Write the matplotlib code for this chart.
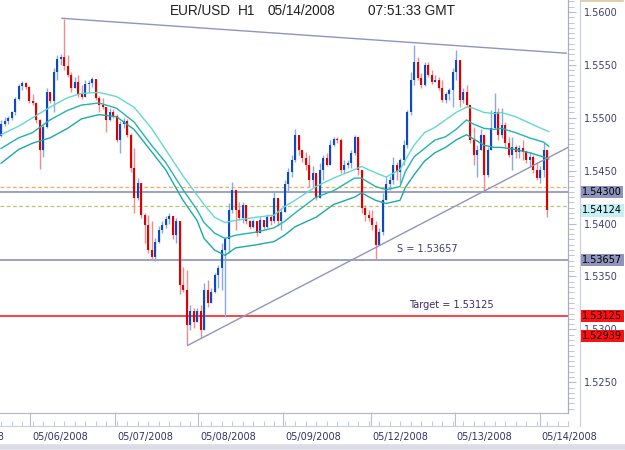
import matplotlib
matplotlib.use('Agg')
import matplotlib.pyplot as plt
from matplotlib.ticker import MultipleLocator, FixedLocator, NullFormatter
from matplotlib.lines import Line2D

# hourly EUR/USD bars, open of each bar = close of the one before
first_open = 1.5483
close = [1.5494, 1.5497, 1.5500, 1.5505, 1.5518, 1.5530, 1.5533, 1.5529, 1.5516, 1.5514,
         1.5498, 1.5470, 1.5491, 1.5524, 1.5516, 1.5543, 1.5556, 1.5557, 1.5549, 1.5540,
         1.5528, 1.5534, 1.5522, 1.5520, 1.5532, 1.5533, 1.5537, 1.5519, 1.5512, 1.5510,
         1.5498, 1.5505, 1.5502, 1.5479, 1.5494, 1.5497, 1.5484, 1.5453, 1.5424, 1.5438,
         1.5408, 1.5399, 1.5375, 1.5368, 1.5383, 1.5394, 1.5399, 1.5404, 1.5407, 1.5389,
         1.5402, 1.5342, 1.5337, 1.5304, 1.5317, 1.5307, 1.5317, 1.5299, 1.5337, 1.5325,
         1.5335, 1.5351, 1.5358, 1.5375, 1.5385, 1.5413, 1.5432, 1.5413, 1.5405, 1.5418,
         1.5402, 1.5397, 1.5402, 1.5391, 1.5403, 1.5397, 1.5406, 1.5402, 1.5424, 1.5402,
         1.5411, 1.5437, 1.5449, 1.5460, 1.5484, 1.5470, 1.5462, 1.5455, 1.5441, 1.5448,
         1.5424, 1.5451, 1.5462, 1.5455, 1.5474, 1.5480, 1.5479, 1.5451, 1.5455, 1.5457,
         1.5467, 1.5482, 1.5451, 1.5415, 1.5408, 1.5405, 1.5399, 1.5380, 1.5392, 1.5422,
         1.5437, 1.5441, 1.5455, 1.5449, 1.5460, 1.5474, 1.5505, 1.5536, 1.5553, 1.5538,
         1.5531, 1.5550, 1.5540, 1.5534, 1.5536, 1.5528, 1.5517, 1.5522, 1.5526, 1.5543,
         1.5555, 1.5517, 1.5524, 1.5512, 1.5479, 1.5465, 1.5470, 1.5484, 1.5446, 1.5470,
         1.5490, 1.5505, 1.5484, 1.5493, 1.5476, 1.5465, 1.5472, 1.5468, 1.5471, 1.5468,
         1.5460, 1.5463, 1.5451, 1.5443, 1.5451, 1.5470, 1.54124]
high = [1.5498, 1.5501, 1.5502, 1.5506, 1.5520, 1.5532, 1.5535, 1.5534, 1.5530, 1.5522,
        1.5515, 1.5499, 1.5493, 1.5528, 1.5522, 1.5547, 1.5559, 1.5560, 1.5593, 1.5559,
        1.5543, 1.5539, 1.5540, 1.5531, 1.5536, 1.5536, 1.5539, 1.5536, 1.5521, 1.5519,
        1.5505, 1.5509, 1.5508, 1.5504, 1.5497, 1.5500, 1.5499, 1.5486, 1.5471, 1.5443,
        1.5438, 1.5410, 1.5408, 1.5402, 1.5386, 1.5398, 1.5402, 1.5407, 1.5410, 1.5402,
        1.5405, 1.5402, 1.5359, 1.5356, 1.5323, 1.5320, 1.5320, 1.5323, 1.5344, 1.5347,
        1.5339, 1.5353, 1.5361, 1.5382, 1.5387, 1.5419, 1.5439, 1.5432, 1.5420, 1.5420,
        1.5415, 1.5403, 1.5404, 1.5402, 1.5406, 1.5403, 1.5409, 1.5408, 1.5430, 1.5422,
        1.5415, 1.5441, 1.5453, 1.5465, 1.5489, 1.5484, 1.5470, 1.5468, 1.5465, 1.5454,
        1.5448, 1.5457, 1.5465, 1.5467, 1.5479, 1.5482, 1.5482, 1.5481, 1.5460, 1.5460,
        1.5470, 1.5484, 1.5474, 1.5451, 1.5418, 1.5413, 1.5413, 1.5402, 1.5396, 1.5429,
        1.5444, 1.5445, 1.5463, 1.5458, 1.5462, 1.5479, 1.5507, 1.5543, 1.5569, 1.5557,
        1.5542, 1.5553, 1.5553, 1.5545, 1.5540, 1.5539, 1.5536, 1.5524, 1.5528, 1.5547,
        1.5564, 1.5547, 1.5528, 1.5531, 1.5512, 1.5491, 1.5474, 1.5489, 1.5484, 1.5472,
        1.5507, 1.5523, 1.5509, 1.5509, 1.5496, 1.5482, 1.5482, 1.5474, 1.5474, 1.5479,
        1.5470, 1.5468, 1.5465, 1.5458, 1.5454, 1.5476, 1.5470]
low = [1.5482, 1.5492, 1.5494, 1.5498, 1.5503, 1.5517, 1.5526, 1.5527, 1.5514, 1.5512,
       1.5495, 1.5452, 1.5463, 1.5490, 1.5514, 1.5505, 1.5536, 1.5550, 1.5545, 1.5539,
       1.5524, 1.5528, 1.5520, 1.5518, 1.5521, 1.5524, 1.5529, 1.5517, 1.5505, 1.5508,
       1.5487, 1.5497, 1.5500, 1.5477, 1.5467, 1.5490, 1.5482, 1.5449, 1.5410, 1.5422,
       1.5405, 1.5382, 1.5372, 1.5366, 1.5365, 1.5382, 1.5391, 1.5396, 1.5400, 1.5385,
       1.5382, 1.5333, 1.5335, 1.5285, 1.5299, 1.5301, 1.5307, 1.5292, 1.5312, 1.5321,
       1.5328, 1.5334, 1.5339, 1.5337, 1.5312, 1.5372, 1.5410, 1.5394, 1.5403, 1.5401,
       1.5400, 1.5395, 1.5396, 1.5388, 1.5391, 1.5395, 1.5396, 1.5399, 1.5401, 1.5398,
       1.5394, 1.5411, 1.5430, 1.5444, 1.5458, 1.5465, 1.5458, 1.5451, 1.5435, 1.5435,
       1.5422, 1.5435, 1.5441, 1.5454, 1.5455, 1.5473, 1.5476, 1.5448, 1.5448, 1.5453,
       1.5453, 1.5465, 1.5446, 1.5410, 1.5402, 1.5402, 1.5394, 1.5366, 1.5382, 1.5389,
       1.5422, 1.5432, 1.5437, 1.5441, 1.5438, 1.5455, 1.5471, 1.5503, 1.5531, 1.5536,
       1.5528, 1.5530, 1.5539, 1.5532, 1.5534, 1.5526, 1.5515, 1.5514, 1.5517, 1.5510,
       1.5536, 1.5510, 1.5514, 1.5510, 1.5476, 1.5455, 1.5444, 1.5471, 1.5432, 1.5444,
       1.5472, 1.5489, 1.5479, 1.5481, 1.5472, 1.5463, 1.5451, 1.5462, 1.5462, 1.5460,
       1.5457, 1.5454, 1.5448, 1.5441, 1.5438, 1.5444, 1.5406]

ma_bars = [0, 5, 9, 14, 19, 23, 28, 33, 38, 43, 47, 52, 56, 58, 61, 64, 67, 73, 78, 81,
           84, 90, 95, 101, 103, 107, 110, 114, 115.5, 118, 121, 124, 127, 130, 133, 135,
           138, 141, 143, 147, 151, 155, 156.5]
ma_high = [1.5484, 1.5492, 1.5500, 1.5510, 1.5519, 1.5523, 1.5524, 1.5520, 1.5510, 1.5490,
           1.5470, 1.5445, 1.5427, 1.5418, 1.5406, 1.5401, 1.5403, 1.5406, 1.5408, 1.5416,
           1.5422, 1.5435, 1.5443, 1.5451, 1.5454, 1.5448, 1.5444, 1.5451, 1.5460, 1.5474,
           1.5486, 1.5491, 1.5498, 1.5505, 1.5510, 1.5509, 1.5505, 1.5504, 1.5505, 1.5501,
           1.5495, 1.5489, 1.5487]
ma_mid = [1.5471, 1.5481, 1.5486, 1.5498, 1.5507, 1.5512, 1.5514, 1.5509, 1.5496, 1.5474,
          1.5458, 1.5432, 1.5413, 1.5401, 1.5391, 1.5386, 1.5389, 1.5392, 1.5396, 1.5402,
          1.5410, 1.5425, 1.5431, 1.5443, 1.5443, 1.5435, 1.5432, 1.5435, 1.5449, 1.5463,
          1.5471, 1.5479, 1.5482, 1.5489, 1.5498, 1.5494, 1.5490, 1.5489, 1.5490, 1.5486,
          1.5481, 1.5477, 1.5473]
ma_low = [1.5457, 1.5470, 1.5476, 1.5481, 1.5490, 1.5499, 1.5503, 1.5501, 1.5489, 1.5468,
          1.5451, 1.5422, 1.5403, 1.5386, 1.5375, 1.5370, 1.5377, 1.5380, 1.5383, 1.5389,
          1.5397, 1.5406, 1.5418, 1.5425, 1.5429, 1.5422, 1.5419, 1.5422, 1.5434, 1.5446,
          1.5459, 1.5467, 1.5472, 1.5479, 1.5484, 1.5480, 1.5474, 1.5472, 1.5472, 1.5470,
          1.5467, 1.5463, 1.5461]

# trendlines (bar, price)
upper_trend = [(17.4, 1.5594), (161.5, 1.5561)]
lower_trend = [(53.4, 1.5285), (162.0, 1.5472)]

support = 1.53657
target = 1.53125
last_line = 1.54300
ask_line = 1.5435
bid_line = 1.5417

day_ticks = [-15.7, 8.3, 32.6, 56.3, 80.6, 105.7, 129.7, 154.0]
day_labels = ['05/05/2008', '05/06/2008', '05/07/2008', '05/08/2008', '05/09/2008',
              '05/12/2008', '05/13/2008', '05/14/2008']

price_ticks = [1.5250, 1.5300, 1.5350, 1.5400, 1.5450, 1.5500, 1.5550, 1.5600]
marker_prices = [1.54300, 1.54124, 1.53657, 1.53125, 1.52939]
marker_colors = ['#8e94bc', '#c6f0f4', '#8e94bc', '#ff1010', '#ff1010']

XLIM = (-0.3, 162)
YLIM = (1.5221, 1.56113)

W, H = 625, 450
fig = plt.figure(figsize=(6.25, 4.5), dpi=100)
fig.patch.set_facecolor('white')

ax = fig.add_axes([0, (H - 413) / H, 568 / W, 413 / H])
ax.set_xlim(*XLIM)
ax.set_ylim(*YLIM)
for s in ['top', 'left']:
    ax.spines[s].set_visible(False)
ax.spines['right'].set_color('#a8acc8')
ax.spines['bottom'].set_color('#b0b4cc')
ax.set_xticks([])
ax.set_yticks([])

# horizontal levels
ax.axhline(ask_line, color='#ffa858', lw=0.9, ls=(0, (3, 2)), zorder=1)
ax.axhline(bid_line, color='#b8c478', lw=0.9, ls=(0, (3, 2)), zorder=1)
ax.axhline(last_line, color='#8088b4', lw=1.1, zorder=1)
ax.axhline(support, color='#8088b4', lw=1.1, zorder=1)
ax.axhline(target, color='#ff2020', lw=1.2, zorder=1)

# candles
opens = [first_open] + close[:-1]
for i in range(len(close)):
    o, c = opens[i], close[i]
    hi = max(high[i], o, c)
    lo = min(low[i], o, c)
    up = c >= o
    dark = '#1048c0' if up else '#e00000'
    light = '#86aae6' if up else '#f28c8c'
    ax.vlines(i, lo, hi, color=light, lw=1.0, zorder=3)
    b0, b1 = min(o, c), max(o, c)
    if b1 - b0 < 0.00008:
        b1 = b0 + 0.00008
    ax.vlines(i, b0, b1, color=dark, lw=1.5, zorder=4)

# moving average channel
ax.plot(ma_bars, ma_high, color='#62d8d2', lw=1.0, zorder=5)
ax.plot(ma_bars, ma_mid, color='#22b4b0', lw=1.0, zorder=5)
ax.plot(ma_bars, ma_low, color='#1aaaa8', lw=1.0, zorder=5)

# trendlines
ax.plot([p[0] for p in upper_trend], [p[1] for p in upper_trend], color='#9094c0', lw=1.0, zorder=6)
ax.plot([p[0] for p in lower_trend], [p[1] for p in lower_trend], color='#9094c0', lw=1.0, zorder=6)

ax.text(113.0, support + 0.0006, 'S = 1.53657', fontsize=7, color='#404068', va='bottom', ha='left')
ax.text(116.6, target + 0.0006, 'Target = 1.53125', fontsize=7, color='#402868', va='bottom', ha='left')

# title pieces
ty = 1 - 11 / 413
tfont = dict(fontsize=9.8, family='Liberation Sans', color='#202020', va='center', ha='left',
             transform=ax.transAxes)
ax.text(170 / 568, ty, 'EUR/USD', **tfont)
ax.text(238 / 568, ty, 'H1', **tfont)
ax.text(268 / 568, ty, '05/14/2008', **tfont)
ax.text(368 / 568, ty, '07:51:33 GMT', **tfont)

# date strip
axd = fig.add_axes([0, (H - 426) / H, 568 / W, 12 / H])
axd.set_xlim(*XLIM)
axd.patch.set_alpha(0)
for s in ['top', 'left', 'right']:
    axd.spines[s].set_visible(False)
axd.spines['bottom'].set_color('#c8cce0')
axd.set_yticks([])
axd.xaxis.set_major_locator(FixedLocator(day_ticks))
axd.xaxis.set_minor_locator(MultipleLocator(3))
axd.xaxis.set_major_formatter(NullFormatter())
axd.tick_params(axis='x', which='major', direction='in', length=10, width=0.8, color='#b8bcd4')
axd.tick_params(axis='x', which='minor', direction='in', length=3.5, width=0.8, color='#c8cce0')
for t, lab in zip(day_ticks, day_labels):
    axd.text(t + 8.5, -0.95, lab, fontsize=7, color='#333366', ha='center', va='center',
             clip_on=False)

# price strip
axr = fig.add_axes([568 / W, (H - 413) / H, 12 / W, 413 / H])
axr.set_ylim(*YLIM)
axr.patch.set_alpha(0)
for s in ['top', 'bottom']:
    axr.spines[s].set_visible(False)
axr.spines['left'].set_color('#a8acc8')
axr.spines['right'].set_color('#c8cce0')
axr.set_xticks([])
axr.yaxis.set_major_locator(FixedLocator(price_ticks))
axr.yaxis.set_minor_locator(MultipleLocator(0.0005))
axr.yaxis.set_major_formatter(plt.FuncFormatter(lambda v, p: f'{v:.4f}'))
axr.tick_params(axis='y', which='both', left=True, right=False, labelleft=False, labelright=True,
                direction='in', pad=2.5, labelsize=7, labelcolor='#404070', color='#b8bcd4')
axr.tick_params(axis='y', which='major', length=6)
axr.tick_params(axis='y', which='minor', length=4)

for p, col in zip(marker_prices, marker_colors):
    axr.text(1.2, p, f'{p:.5f}', fontsize=7, color='black', ha='left', va='center',
             transform=axr.get_yaxis_transform(), clip_on=False, zorder=10,
             bbox=dict(boxstyle='square,pad=0.12', fc=col, ec='none'))

# frame bits around the axes
fig.add_artist(Line2D([580 / W, 580 / W], [(H - 426) / H, (H - 413) / H],
                      transform=fig.transFigure, color='#c8cce0', lw=0.8))
fig.add_artist(Line2D([582 / W, 623 / W], [1 - 1 / H, 1 - 1 / H],
                      transform=fig.transFigure, color='#d8c8a0', lw=1.2))
fig.add_artist(Line2D([0, 1], [3 / H, 3 / H], transform=fig.transFigure, color='#dcdce6', lw=4))

fig.savefig('out.png', dpi=100, facecolor='white')
